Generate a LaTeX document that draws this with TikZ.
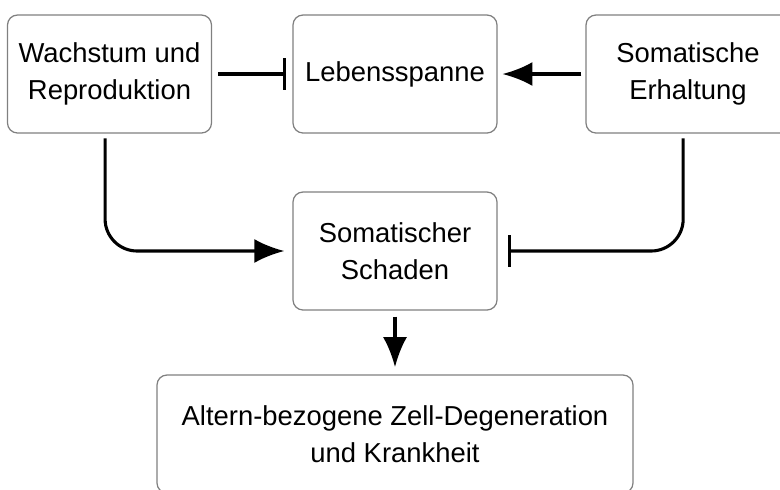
\documentclass[tikz,border=0pt]{standalone}
\usepackage{fontspec}
\setmainfont{Liberation Sans}
\usetikzlibrary{arrows.meta,positioning}
\tikzset{kasten/.style={draw=black!50,line width=0.9pt,rounded corners=0.25cm,align=center,
		minimum width=5.1cm,minimum height=2.95cm,font=\fontsize{19.5pt}{26.3pt}\selectfont},
	pfeil/.style={line width=2.2pt},
	hemmt/.style={pfeil,-{Bar[width=0.78cm]}}}
\begin{document}
\begin{tikzpicture}[>={Latex[length=0.75cm,width=0.6cm]}]
		\useasboundingbox (0,0) rectangle (19.5,-12.225);
		\node[kasten] (wachstum) at (2.7375,-1.85) {Wachstum und\\Reproduktion};
		\node[kasten] (lebensspanne) at (9.875,-1.85) {Lebensspanne};
		\node[kasten] (erhaltung) at (17.2,-1.85) {Somatische\\Erhaltung};
		\node[kasten] (schaden) at (9.875,-6.275) {Somatischer\\Schaden};
		\node[kasten,minimum width=11.9cm] (krankheit) at (9.875,-10.85) {Altern-bezogene Zell-Degeneration\\und Krankheit};
		\draw[hemmt,shorten <=0.15cm,shorten >=0.15cm] (wachstum) -- (lebensspanne);
		\draw[pfeil,->,shorten <=0.1cm,shorten >=0.12cm] (erhaltung) -- (lebensspanne);
		\draw[pfeil,->,rounded corners=0.8cm,shorten <=0.12cm,shorten >=0.2cm] ([xshift=-0.11cm]wachstum.south) |- (schaden);
		\draw[hemmt,rounded corners=0.8cm,shorten <=0.12cm,shorten >=0.25cm] ([xshift=-0.12cm]erhaltung.south) |- (schaden);
		\draw[pfeil,->,shorten <=0.15cm,shorten >=0.18cm] (schaden) -- (krankheit);%senkrecht
\end{tikzpicture}
\end{document}
